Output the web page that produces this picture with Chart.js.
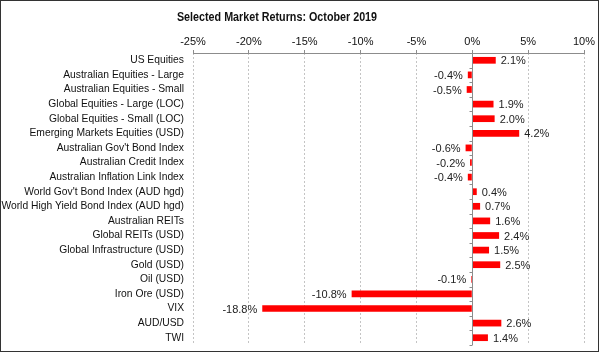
<!DOCTYPE html>
<html>
<head>
<meta charset="utf-8">
<script src="https://cdn.jsdelivr.net/npm/chart.js@4"></script>
<style>
  html, body { margin: 0; padding: 0; background: #fff; }
  #wrap { position: relative; width: 600px; height: 353px; }
  canvas { display: block; }
</style>
</head>
<body>
<div id="wrap"><canvas id="barChart" width="600" height="353"></canvas></div>
<script>
const categories = [
  'US Equities', 'Australian Equities - Large', 'Australian Equities - Small',
  'Global Equities - Large (LOC)', 'Global Equities - Small (LOC)',
  'Emerging Markets Equities (USD)', "Australian Gov't Bond Index",
  'Australian Credit Index', 'Australian Inflation Link Index',
  "World Gov't Bond Index (AUD hgd)", 'World High Yield Bond Index (AUD hgd)',
  'Australian REITs', 'Global REITs (USD)', 'Global Infrastructure (USD)',
  'Gold (USD)', 'Oil (USD)', 'Iron Ore (USD)', 'VIX', 'AUD/USD', 'TWI'
];
const returns = [2.1, -0.4, -0.5, 1.9, 2.0, 4.2, -0.6, -0.2, -0.4, 0.4, 0.7, 1.6, 2.4, 1.5, 2.5, -0.1, -10.8, -18.8, 2.6, 1.4];
const xTicks = [-25, -20, -15, -10, -5, 0, 5, 10];
const chartTitle = 'Selected Market Returns: October 2019';

const FONT = "'Liberation Sans', Arial, sans-serif";

// title, top axis line, zero line with its little ticks, value labels, frame
const extras = {
  id: 'extras',
  afterDatasetsDraw(chart) {
    const c = chart.ctx;
    const x = chart.scales.x, y = chart.scales.y;
    const area = chart.chartArea;
    const x0 = Math.round(x.getPixelForValue(0)) + 0.5;
    c.save();

    // title, a little condensed like the original
    c.font = 'bold 12.5px ' + FONT;
    c.fillStyle = '#111';
    c.textAlign = 'center';
    c.textBaseline = 'middle';
    c.save();
    c.translate(277, 18);
    c.scale(0.86, 1);
    c.fillText(chartTitle, 0, 0);
    c.restore();

    c.strokeStyle = '#8c8c8c';
    c.lineWidth = 1;
    c.beginPath();
    const yTop = Math.round(area.top) + 0.5;
    c.moveTo(area.left, yTop);
    c.lineTo(area.right + 1, yTop);
    c.moveTo(x0, area.top);
    c.lineTo(x0, area.bottom);
    const step = (y.getPixelForValue(1) - y.getPixelForValue(0));
    for (let i = 0; i <= categories.length; i++) {
      const yy = Math.round(y.getPixelForValue(i) - step / 2) + 0.5;
      c.moveTo(x0 - 3, yy);
      c.lineTo(x0, yy);
    }
    c.stroke();

    c.font = '11px ' + FONT;
    c.fillStyle = '#222';
    c.textBaseline = 'middle';
    chart.getDatasetMeta(0).data.forEach((bar, i) => {
      const v = returns[i];
      const txt = v.toFixed(1) + '%';
      if (v >= 0) {
        c.textAlign = 'left';
        c.fillText(txt, bar.x + 5, bar.y + 1);
      } else {
        c.textAlign = 'right';
        c.fillText(txt, bar.x - 5, bar.y + 1);
      }
    });

    c.strokeStyle = '#333';
    c.lineWidth = 1;
    c.strokeRect(0.5, 0.5, chart.width - 2, chart.height - 2);
    c.restore();
  }
};

new Chart(document.getElementById('barChart').getContext('2d'), {
  type: 'bar',
  data: {
    labels: categories,
    datasets: [{
      data: returns,
      backgroundColor: '#ff0000',
      borderWidth: 0,
      barPercentage: 0.46,
      categoryPercentage: 1
    }]
  },
  options: {
    indexAxis: 'y',
    responsive: false,
    animation: false,
    layout: { padding: { top: 30, right: 16, bottom: 8, left: 0 } },
    plugins: {
      legend: { display: false },
      tooltip: { enabled: false },
      title: { display: false }
    },
    scales: {
      x: {
        position: 'top',
        min: -25,
        max: 10,
        afterFit: (s) => { s.height = 23; s.paddingLeft = 0; s.paddingRight = 0; },
        afterBuildTicks: (s) => { s.ticks = xTicks.map(v => ({ value: v })); },
        ticks: {
          color: '#111',
          font: { family: FONT, size: 11 },
          padding: 1,
          callback: (v) => v + '%'
        },
        grid: {
          color: (ctx) => ctx.tick && ctx.tick.value === 0 ? 'rgba(0,0,0,0)' : '#c4c4c4',
          tickColor: '#8c8c8c',
          tickLength: 3,
          drawTicks: true
        },
        border: { display: false, dash: [2, 2] }
      },
      y: {
        afterFit: (s) => { s.width = 193; s.paddingTop = 0; s.paddingBottom = 0; },
        ticks: {
          color: '#111',
          font: { family: FONT, size: 10.3 },
          padding: 9,
          autoSkip: false
        },
        grid: { display: false, drawTicks: false },
        border: { display: false }
      }
    }
  },
  plugins: [extras]
});
</script>
</body>
</html>
